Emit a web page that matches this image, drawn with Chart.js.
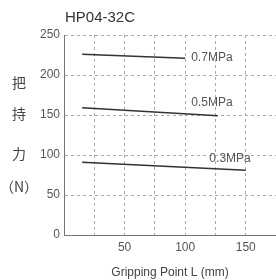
<!DOCTYPE html>
<html>
<head>
<meta charset="utf-8">
<script src="https://cdn.jsdelivr.net/npm/chart.js@4"></script>
<style>
  html, body { margin: 0; padding: 0; background: #fff; }
  #wrap { width: 276px; height: 280px; }
</style>
</head>
<body>
<div id="wrap"><canvas id="myChart"></canvas></div>
<script>
// data
const pointsL = [15, 100];          // mm, 0.7MPa line
const line07 = [226, 221];
const pointsL05 = [15, 127];
const line05 = [159, 149];
const pointsL03 = [15, 150];
const line03 = [91, 81];

const seriesNames = ["0.7MPa", "0.5MPa", "0.3MPa"];
const labelAnchorX = [105, 105, 120];   // where each pressure label starts (mm)
const labelAnchorY = [222, 165, 96];    // (N)

const xTicks = [50, 100, 150];
const yTicks = [0, 50, 100, 150, 200, 250];
const titleText = "HP04-32C";
const yTitleChars = ["把", "持", "力", "（N）"];
const yTitleAt = [190, 152, 102, 60];   // value on y axis where each char sits
const xTitleText = "Gripping Point L (mm)";

const toXY = (xs, ys) => xs.map((x, i) => ({ x: x, y: ys[i] }));

const fontFam = "'Liberation Sans', Arial, sans-serif";

// draws title, vertical y title and the pressure labels
const textPlugin = {
  id: "textPlugin",
  afterDraw(chart) {
    const ctx = chart.ctx;
    const xs = chart.scales.x, ys = chart.scales.y;
    ctx.save();
    ctx.fillStyle = "#333";
    ctx.font = "15px " + fontFam;
    ctx.textAlign = "left";
    ctx.textBaseline = "middle";
    ctx.fillText(titleText, 65, 18);

    ctx.fillStyle = "#444";
    ctx.font = "14px 'Noto Sans CJK JP', sans-serif";
    ctx.textAlign = "center";
    yTitleChars.forEach((c, i) => {
      ctx.fillText(c, 19, ys.getPixelForValue(yTitleAt[i]));
    });

    ctx.font = "12px " + fontFam;
    ctx.fillStyle = "#555";
    ctx.textAlign = "left";
    seriesNames.forEach((n, i) => {
      ctx.fillText(n, xs.getPixelForValue(labelAnchorX[i]), ys.getPixelForValue(labelAnchorY[i]));
    });
    ctx.restore();
  }
};

const lineStyle = { borderColor: "#333", borderWidth: 1.5, pointRadius: 0, fill: false, tension: 0 };

new Chart(document.getElementById("myChart"), {
  type: "line",
  data: {
    datasets: [
      Object.assign({ label: seriesNames[0], data: toXY(pointsL, line07) }, lineStyle),
      Object.assign({ label: seriesNames[1], data: toXY(pointsL05, line05) }, lineStyle),
      Object.assign({ label: seriesNames[2], data: toXY(pointsL03, line03) }, lineStyle),
    ],
  },
  options: {
    animation: false,
    responsive: true,
    maintainAspectRatio: false,
    layout: { padding: { top: 35, right: -2, left: 0, bottom: 0 } },
    plugins: { legend: { display: false }, tooltip: { enabled: false } },
    scales: {
      x: {
        type: "linear",
        min: 0,
        max: 175,
        afterFit: (s) => { s.height = 45; s.paddingLeft = 0; s.paddingRight = 0; },
        ticks: {
          stepSize: 25,
          autoSkip: false,
          maxRotation: 0,
          padding: 5,
          color: "#555",
          font: { size: 12, family: fontFam },
          callback: (v) => (xTicks.includes(v) ? String(v) : ""),
        },
        grid: { color: "#aaa", drawTicks: false, lineWidth: 1 },
        border: { color: "#777", width: 1, dash: [3, 3] },
        title: { display: true, text: xTitleText, color: "#444", font: { size: 12, family: fontFam }, padding: { top: 5, bottom: 0 } },
      },
      y: {
        min: 0,
        max: 250,
        afterFit: (s) => { s.width = 64; },
        afterBuildTicks: (s) => { s.ticks = yTicks.map((v) => ({ value: v })); },
        ticks: {
          padding: 4,
          color: "#555",
          font: { size: 12, family: fontFam },
        },
        grid: { color: "#aaa", drawTicks: false, lineWidth: 1 },
        border: { color: "#777", width: 1, dash: [3, 3] },
      },
    },
  },
  plugins: [textPlugin],
});
</script>
</body>
</html>
